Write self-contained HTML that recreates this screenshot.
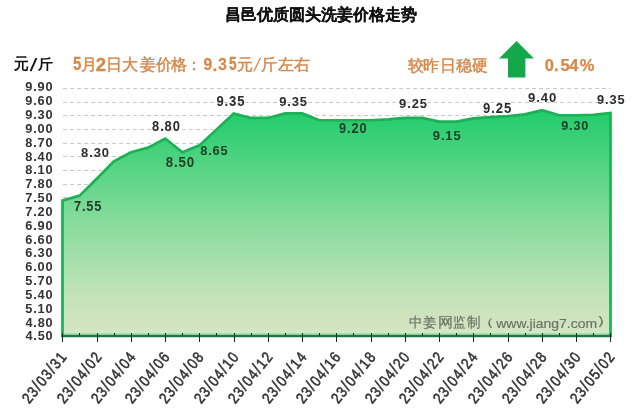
<!DOCTYPE html>
<html><head><meta charset="utf-8">
<style>
html,body{margin:0;padding:0;background:#fff;width:640px;height:410px;overflow:hidden}
svg{display:block;will-change:transform;font-family:"Liberation Sans",sans-serif}
</style></head><body>
<svg width="640" height="410" viewBox="0 0 640 410">
<defs>
<linearGradient id="g" x1="0" y1="0" x2="0" y2="1">
<stop offset="0" stop-color="#20cc6b"/>
<stop offset="0.5" stop-color="#88dc9c"/>
<stop offset="0.84" stop-color="#c6e3ba"/>
<stop offset="0.95" stop-color="#d3e3c1"/>
<stop offset="1" stop-color="#d4e8c6"/>
</linearGradient>
</defs>
<rect width="640" height="410" fill="#fff"/>
<g stroke="#c8c8c8" stroke-width="1" stroke-dasharray="4,3"><line x1="63.1" y1="321.50" x2="610.5" y2="321.50"/><line x1="63.1" y1="307.50" x2="610.5" y2="307.50"/><line x1="63.1" y1="293.50" x2="610.5" y2="293.50"/><line x1="63.1" y1="280.50" x2="610.5" y2="280.50"/><line x1="63.1" y1="266.50" x2="610.5" y2="266.50"/><line x1="63.1" y1="252.50" x2="610.5" y2="252.50"/><line x1="63.1" y1="239.50" x2="610.5" y2="239.50"/><line x1="63.1" y1="225.50" x2="610.5" y2="225.50"/><line x1="63.1" y1="211.50" x2="610.5" y2="211.50"/><line x1="63.1" y1="197.50" x2="610.5" y2="197.50"/><line x1="63.1" y1="184.50" x2="610.5" y2="184.50"/><line x1="63.1" y1="170.50" x2="610.5" y2="170.50"/><line x1="63.1" y1="156.50" x2="610.5" y2="156.50"/><line x1="63.1" y1="143.50" x2="610.5" y2="143.50"/><line x1="63.1" y1="129.50" x2="610.5" y2="129.50"/><line x1="63.1" y1="115.50" x2="610.5" y2="115.50"/><line x1="63.1" y1="102.50" x2="610.5" y2="102.50"/><line x1="63.1" y1="88.50" x2="610.5" y2="88.50"/></g>
<path d="M62.50,200.63 L79.62,195.61 L96.75,178.71 L113.88,161.35 L131.00,152.22 L148.12,147.65 L165.25,138.52 L182.38,152.22 L199.50,145.37 L216.62,129.38 L233.75,113.40 L250.88,117.97 L268.00,117.97 L285.12,113.40 L302.25,113.40 L319.38,120.25 L336.50,120.25 L353.62,120.25 L370.75,120.25 L387.88,119.34 L405.00,117.97 L422.12,117.97 L439.25,121.62 L456.38,121.62 L473.50,118.42 L490.62,117.05 L507.75,116.14 L524.88,114.31 L542.00,110.20 L559.12,115.23 L576.25,115.23 L593.38,114.77 L610.50,112.94 L610.50,335.6 L62.50,335.6 Z" fill="url(#g)"/>
<path d="M62.50,335.6 L62.50,200.63 L79.62,195.61 L96.75,178.71 L113.88,161.35 L131.00,152.22 L148.12,147.65 L165.25,138.52 L182.38,152.22 L199.50,145.37 L216.62,129.38 L233.75,113.40 L250.88,117.97 L268.00,117.97 L285.12,113.40 L302.25,113.40 L319.38,120.25 L336.50,120.25 L353.62,120.25 L370.75,120.25 L387.88,119.34 L405.00,117.97 L422.12,117.97 L439.25,121.62 L456.38,121.62 L473.50,118.42 L490.62,117.05 L507.75,116.14 L524.88,114.31 L542.00,110.20 L559.12,115.23 L576.25,115.23 L593.38,114.77 L610.50,112.94 L610.50,335.6" fill="none" stroke="#1db054" stroke-width="2.7" stroke-linejoin="miter" stroke-miterlimit="10"/>
<line x1="63.8" y1="333.9" x2="609" y2="333.9" stroke="#98e2a8" stroke-width="1.2"/>
<line x1="61.2" y1="335.9" x2="611.8" y2="335.9" stroke="#1a7a40" stroke-width="2.5"/>
<g stroke="#1c2a20" stroke-width="1"><line x1="62.50" y1="333" x2="62.50" y2="342"/><line x1="79.50" y1="333" x2="79.50" y2="335.60"/><line x1="97.50" y1="333" x2="97.50" y2="342"/><line x1="114.50" y1="333" x2="114.50" y2="335.60"/><line x1="131.50" y1="333" x2="131.50" y2="342"/><line x1="148.50" y1="333" x2="148.50" y2="335.60"/><line x1="165.50" y1="333" x2="165.50" y2="342"/><line x1="182.50" y1="333" x2="182.50" y2="335.60"/><line x1="199.50" y1="333" x2="199.50" y2="342"/><line x1="216.50" y1="333" x2="216.50" y2="335.60"/><line x1="234.50" y1="333" x2="234.50" y2="342"/><line x1="251.50" y1="333" x2="251.50" y2="335.60"/><line x1="268.50" y1="333" x2="268.50" y2="342"/><line x1="285.50" y1="333" x2="285.50" y2="335.60"/><line x1="302.50" y1="333" x2="302.50" y2="342"/><line x1="319.50" y1="333" x2="319.50" y2="335.60"/><line x1="336.50" y1="333" x2="336.50" y2="342"/><line x1="353.50" y1="333" x2="353.50" y2="335.60"/><line x1="371.50" y1="333" x2="371.50" y2="342"/><line x1="388.50" y1="333" x2="388.50" y2="335.60"/><line x1="405.50" y1="333" x2="405.50" y2="342"/><line x1="422.50" y1="333" x2="422.50" y2="335.60"/><line x1="439.50" y1="333" x2="439.50" y2="342"/><line x1="456.50" y1="333" x2="456.50" y2="335.60"/><line x1="473.50" y1="333" x2="473.50" y2="342"/><line x1="490.50" y1="333" x2="490.50" y2="335.60"/><line x1="508.50" y1="333" x2="508.50" y2="342"/><line x1="525.50" y1="333" x2="525.50" y2="335.60"/><line x1="542.50" y1="333" x2="542.50" y2="342"/><line x1="559.50" y1="333" x2="559.50" y2="335.60"/><line x1="576.50" y1="333" x2="576.50" y2="342"/><line x1="593.50" y1="333" x2="593.50" y2="335.60"/><line x1="610.50" y1="333" x2="610.50" y2="342"/></g>
<g font-size="15.5" fill="#333" stroke="#333" stroke-width="0.55" text-anchor="end" letter-spacing="1.4"><text transform="translate(68.00,356.60) rotate(-51) scale(0.85,1)">23<tspan font-size="17.5">/</tspan>03<tspan font-size="17.5">/</tspan>31</text>
<text transform="translate(103.00,356.60) rotate(-51) scale(0.85,1)">23<tspan font-size="17.5">/</tspan>04<tspan font-size="17.5">/</tspan>02</text>
<text transform="translate(137.00,356.60) rotate(-51) scale(0.85,1)">23<tspan font-size="17.5">/</tspan>04<tspan font-size="17.5">/</tspan>04</text>
<text transform="translate(171.00,356.60) rotate(-51) scale(0.85,1)">23<tspan font-size="17.5">/</tspan>04<tspan font-size="17.5">/</tspan>06</text>
<text transform="translate(205.00,356.60) rotate(-51) scale(0.85,1)">23<tspan font-size="17.5">/</tspan>04<tspan font-size="17.5">/</tspan>08</text>
<text transform="translate(240.00,356.60) rotate(-51) scale(0.85,1)">23<tspan font-size="17.5">/</tspan>04<tspan font-size="17.5">/</tspan>10</text>
<text transform="translate(274.00,356.60) rotate(-51) scale(0.85,1)">23<tspan font-size="17.5">/</tspan>04<tspan font-size="17.5">/</tspan>12</text>
<text transform="translate(308.00,356.60) rotate(-51) scale(0.85,1)">23<tspan font-size="17.5">/</tspan>04<tspan font-size="17.5">/</tspan>14</text>
<text transform="translate(342.00,356.60) rotate(-51) scale(0.85,1)">23<tspan font-size="17.5">/</tspan>04<tspan font-size="17.5">/</tspan>16</text>
<text transform="translate(377.00,356.60) rotate(-51) scale(0.85,1)">23<tspan font-size="17.5">/</tspan>04<tspan font-size="17.5">/</tspan>18</text>
<text transform="translate(411.00,356.60) rotate(-51) scale(0.85,1)">23<tspan font-size="17.5">/</tspan>04<tspan font-size="17.5">/</tspan>20</text>
<text transform="translate(445.00,356.60) rotate(-51) scale(0.85,1)">23<tspan font-size="17.5">/</tspan>04<tspan font-size="17.5">/</tspan>22</text>
<text transform="translate(479.00,356.60) rotate(-51) scale(0.85,1)">23<tspan font-size="17.5">/</tspan>04<tspan font-size="17.5">/</tspan>24</text>
<text transform="translate(514.00,356.60) rotate(-51) scale(0.85,1)">23<tspan font-size="17.5">/</tspan>04<tspan font-size="17.5">/</tspan>26</text>
<text transform="translate(548.00,356.60) rotate(-51) scale(0.85,1)">23<tspan font-size="17.5">/</tspan>04<tspan font-size="17.5">/</tspan>28</text>
<text transform="translate(582.00,356.60) rotate(-51) scale(0.85,1)">23<tspan font-size="17.5">/</tspan>04<tspan font-size="17.5">/</tspan>30</text>
<text transform="translate(616.00,356.60) rotate(-51) scale(0.85,1)">23<tspan font-size="17.5">/</tspan>05<tspan font-size="17.5">/</tspan>02</text>
</g>
<g><text transform="matrix(0.9464 0 0 1.0526 73.93 210.74)" font-size="13.5" font-weight="bold" letter-spacing="0.9" fill="#1f3d28">7.55</text>
<text transform="matrix(0.9607 0 0 0.9949 81.12 157.35)" font-size="13.5" font-weight="bold" letter-spacing="0.9" fill="#2b2b2b">8.30</text>
<text transform="matrix(0.9571 0 0 1.0256 152.12 130.74)" font-size="13.5" font-weight="bold" letter-spacing="0.9" fill="#2b2b2b">8.80</text>
<text transform="matrix(0.9821 0 0 1.0256 165.76 166.64)" font-size="13.5" font-weight="bold" letter-spacing="0.9" fill="#1f3d28">8.50</text>
<text transform="matrix(0.9482 0 0 0.9846 200.23 155.35)" font-size="13.5" font-weight="bold" letter-spacing="0.9" fill="#1f3d28">8.65</text>
<text transform="matrix(0.9679 0 0 1.0154 216.42 105.65)" font-size="13.5" font-weight="bold" letter-spacing="0.9" fill="#2b2b2b">9.35</text>
<text transform="matrix(0.9589 0 0 0.9897 279.27 105.50)" font-size="13.5" font-weight="bold" letter-spacing="0.9" fill="#2b2b2b">9.35</text>
<text transform="matrix(0.9500 0 0 1.0256 339.12 132.74)" font-size="13.5" font-weight="bold" letter-spacing="0.9" fill="#1f3d28">9.20</text>
<text transform="matrix(0.9607 0 0 0.9897 399.12 107.50)" font-size="13.5" font-weight="bold" letter-spacing="0.9" fill="#2b2b2b">9.25</text>
<text transform="matrix(0.9607 0 0 0.9897 432.82 139.50)" font-size="13.5" font-weight="bold" letter-spacing="0.9" fill="#1f3d28">9.15</text>
<text transform="matrix(0.9714 0 0 1.0564 483.11 112.74)" font-size="13.5" font-weight="bold" letter-spacing="0.9" fill="#2b2b2b">9.25</text>
<text transform="matrix(0.9696 0 0 0.9897 528.12 101.50)" font-size="13.5" font-weight="bold" letter-spacing="0.9" fill="#2b2b2b">9.40</text>
<text transform="matrix(0.9393 0 0 0.9897 561.13 129.50)" font-size="13.5" font-weight="bold" letter-spacing="0.9" fill="#1f3d28">9.30</text>
<text transform="matrix(0.9500 0 0 0.9949 597.12 104.45)" font-size="13.5" font-weight="bold" letter-spacing="0.9" fill="#2b2b2b">9.35</text>
<text transform="matrix(0.9381 0 0 0.9744 25.47 340.36)" font-size="13.5" font-weight="bold" letter-spacing="0.9" fill="#333">4.50</text>
<text transform="matrix(0.9381 0 0 0.9744 25.47 326.53)" font-size="13.5" font-weight="bold" letter-spacing="0.9" fill="#333">4.80</text>
<text transform="matrix(0.9464 0 0 0.9744 25.23 312.70)" font-size="13.5" font-weight="bold" letter-spacing="0.9" fill="#333">5.10</text>
<text transform="matrix(0.9464 0 0 0.9744 25.23 298.87)" font-size="13.5" font-weight="bold" letter-spacing="0.9" fill="#333">5.40</text>
<text transform="matrix(0.9464 0 0 0.9744 25.23 285.04)" font-size="13.5" font-weight="bold" letter-spacing="0.9" fill="#333">5.70</text>
<text transform="matrix(0.9464 0 0 0.9744 25.23 271.21)" font-size="13.5" font-weight="bold" letter-spacing="0.9" fill="#333">6.00</text>
<text transform="matrix(0.9464 0 0 0.9744 25.23 257.38)" font-size="13.5" font-weight="bold" letter-spacing="0.9" fill="#333">6.30</text>
<text transform="matrix(0.9464 0 0 0.9744 25.23 243.55)" font-size="13.5" font-weight="bold" letter-spacing="0.9" fill="#333">6.60</text>
<text transform="matrix(0.9464 0 0 0.9744 25.23 229.72)" font-size="13.5" font-weight="bold" letter-spacing="0.9" fill="#333">6.90</text>
<text transform="matrix(0.9464 0 0 0.9744 25.23 215.89)" font-size="13.5" font-weight="bold" letter-spacing="0.9" fill="#333">7.20</text>
<text transform="matrix(0.9464 0 0 0.9744 25.23 202.06)" font-size="13.5" font-weight="bold" letter-spacing="0.9" fill="#333">7.50</text>
<text transform="matrix(0.9464 0 0 0.9744 25.23 188.23)" font-size="13.5" font-weight="bold" letter-spacing="0.9" fill="#333">7.80</text>
<text transform="matrix(0.9464 0 0 0.9744 25.23 174.40)" font-size="13.5" font-weight="bold" letter-spacing="0.9" fill="#333">8.10</text>
<text transform="matrix(0.9464 0 0 0.9744 25.23 160.57)" font-size="13.5" font-weight="bold" letter-spacing="0.9" fill="#333">8.40</text>
<text transform="matrix(0.9464 0 0 0.9744 25.23 146.74)" font-size="13.5" font-weight="bold" letter-spacing="0.9" fill="#333">8.70</text>
<text transform="matrix(0.9464 0 0 0.9744 25.23 132.91)" font-size="13.5" font-weight="bold" letter-spacing="0.9" fill="#333">9.00</text>
<text transform="matrix(0.9464 0 0 0.9744 25.23 119.08)" font-size="13.5" font-weight="bold" letter-spacing="0.9" fill="#333">9.30</text>
<text transform="matrix(0.9464 0 0 0.9744 25.23 105.25)" font-size="13.5" font-weight="bold" letter-spacing="0.9" fill="#333">9.60</text>
<text transform="matrix(0.9464 0 0 0.9744 25.23 91.42)" font-size="13.5" font-weight="bold" letter-spacing="0.9" fill="#333">9.90</text>
<text transform="matrix(0.9097 0 0 0.9898 14.30 69.42)" font-size="16" font-weight="bold" letter-spacing="0" fill="#111">元</text>
<text transform="matrix(0.9563 0 0 0.8937 37.54 69.09)" font-size="16" font-weight="bold" letter-spacing="0" fill="#111">斤</text>
<text transform="matrix(0.8824 0 0 1.0417 72.96 70.49)" font-size="17" font-weight="bold" letter-spacing="0" fill="#d6884a" stroke="#d6884a" stroke-width="0.25">5</text>
<text transform="matrix(1.0000 0 0 1.0000 80.75 70.00)" font-size="16" font-weight="normal" letter-spacing="0" fill="#d6884a" stroke="#d6884a" stroke-width="0.45">月</text>
<text transform="matrix(1.0909 0 0 1.0417 95.70 70.75)" font-size="17" font-weight="bold" letter-spacing="0" fill="#d6884a" stroke="#d6884a" stroke-width="0.25">2</text>
<text transform="matrix(1.0000 0 0 1.0000 105.90 70.00)" font-size="16" font-weight="normal" letter-spacing="0" fill="#d6884a" stroke="#d6884a" stroke-width="0.45">日</text>
<text transform="matrix(1.0000 0 0 1.0000 121.55 70.00)" font-size="16" font-weight="normal" letter-spacing="0" fill="#d6884a" stroke="#d6884a" stroke-width="0.45">大</text>
<text transform="matrix(1.0000 0 0 1.0000 140.05 70.00)" font-size="16" font-weight="normal" letter-spacing="0" fill="#d6884a" stroke="#d6884a" stroke-width="0.45">姜</text>
<text transform="matrix(1.0000 0 0 1.0000 155.60 70.00)" font-size="16" font-weight="normal" letter-spacing="0" fill="#d6884a" stroke="#d6884a" stroke-width="0.45">价</text>
<text transform="matrix(1.0000 0 0 1.0000 171.25 70.00)" font-size="16" font-weight="normal" letter-spacing="0" fill="#d6884a" stroke="#d6884a" stroke-width="0.45">格</text>
<text transform="matrix(1.0000 0 0 1.0000 186.10 70.00)" font-size="16" font-weight="normal" letter-spacing="0" fill="#d6884a" stroke="#d6884a" stroke-width="0.45">：</text>
<text transform="matrix(0.9212 0 0 1.0204 203.54 70.49)" font-size="17" font-weight="bold" letter-spacing="0" fill="#d6884a" stroke="#d6884a" stroke-width="0.25">9</text>
<text transform="matrix(1.0000 0 0 1.0000 212.50 70.75)" font-size="17" font-weight="bold" letter-spacing="0" fill="#d6884a" stroke="#d6884a" stroke-width="0.25">.</text>
<text transform="matrix(0.9091 0 0 1.0204 218.30 70.49)" font-size="17" font-weight="bold" letter-spacing="0" fill="#d6884a" stroke="#d6884a" stroke-width="0.25">3</text>
<text transform="matrix(0.8059 0 0 1.0417 229.00 70.49)" font-size="17" font-weight="bold" letter-spacing="0" fill="#d6884a" stroke="#d6884a" stroke-width="0.25">5</text>
<text transform="matrix(1.0000 0 0 1.0000 236.75 70.00)" font-size="16" font-weight="normal" letter-spacing="0" fill="#d6884a" stroke="#d6884a" stroke-width="0.45">元</text>
<text transform="matrix(1.0000 0 0 1.0000 261.40 70.00)" font-size="16" font-weight="normal" letter-spacing="0" fill="#d6884a" stroke="#d6884a" stroke-width="0.45">斤</text>
<text transform="matrix(1.0000 0 0 1.0000 277.75 70.00)" font-size="16" font-weight="normal" letter-spacing="0" fill="#d6884a" stroke="#d6884a" stroke-width="0.45">左</text>
<text transform="matrix(1.0000 0 0 1.0000 293.50 70.00)" font-size="16" font-weight="normal" letter-spacing="0" fill="#d6884a" stroke="#d6884a" stroke-width="0.45">右</text>
<text transform="matrix(1.0000 0 0 1.0000 408.25 70.50)" font-size="16" font-weight="normal" letter-spacing="0" fill="#d6884a" stroke="#d6884a" stroke-width="0.45">较</text>
<text transform="matrix(1.0000 0 0 1.0000 423.30 70.50)" font-size="16" font-weight="normal" letter-spacing="0" fill="#d6884a" stroke="#d6884a" stroke-width="0.45">昨</text>
<text transform="matrix(1.0000 0 0 1.0000 439.70 70.50)" font-size="16" font-weight="normal" letter-spacing="0" fill="#d6884a" stroke="#d6884a" stroke-width="0.45">日</text>
<text transform="matrix(1.0000 0 0 1.0000 456.05 70.50)" font-size="16" font-weight="normal" letter-spacing="0" fill="#d6884a" stroke="#d6884a" stroke-width="0.45">稳</text>
<text transform="matrix(1.0000 0 0 1.0000 471.75 70.50)" font-size="16" font-weight="normal" letter-spacing="0" fill="#d6884a" stroke="#d6884a" stroke-width="0.45">硬</text>
<text transform="matrix(1.0000 0 0 1.0000 544.85 70.65)" font-size="16.5" font-weight="bold" letter-spacing="0" fill="#d6884a" stroke="#d6884a" stroke-width="0.25">0</text>
<text transform="matrix(1.0000 0 0 1.0000 554.00 70.90)" font-size="16.5" font-weight="bold" letter-spacing="0" fill="#d6884a" stroke="#d6884a" stroke-width="0.25">.</text>
<text transform="matrix(1.0000 0 0 1.0000 560.60 70.65)" font-size="16.5" font-weight="bold" letter-spacing="0" fill="#d6884a" stroke="#d6884a" stroke-width="0.25">5</text>
<text transform="matrix(1.0000 0 0 1.0000 569.25 70.90)" font-size="16.5" font-weight="bold" letter-spacing="0" fill="#d6884a" stroke="#d6884a" stroke-width="0.25">4</text>
<text transform="matrix(1.0000 0 0 1.0000 579.80 70.65)" font-size="16.5" font-weight="bold" letter-spacing="0" fill="#d6884a" stroke="#d6884a" stroke-width="0.25">%</text>
<text transform="matrix(0.9689 0 0 1.0192 409.17 327.22)" font-size="14" font-weight="normal" letter-spacing="0" fill="#687365" stroke="#687365" stroke-width="0.18">中</text>
<text transform="matrix(0.9736 0 0 0.9298 422.86 326.66)" font-size="14" font-weight="normal" letter-spacing="0" fill="#687365" stroke="#687365" stroke-width="0.18">姜</text>
<text transform="matrix(1.1111 0 0 1.0280 437.81 326.95)" font-size="14" font-weight="normal" letter-spacing="0" fill="#687365" stroke="#687365" stroke-width="0.18">网</text>
<text transform="matrix(0.9308 0 0 1.0235 452.63 327.21)" font-size="14" font-weight="normal" letter-spacing="0" fill="#687365" stroke="#687365" stroke-width="0.18">监</text>
<text transform="matrix(0.9490 0 0 0.9815 466.56 326.79)" font-size="14" font-weight="normal" letter-spacing="0" fill="#687365" stroke="#687365" stroke-width="0.18">制</text>
<text transform="matrix(1.2727 0 0 0.8000 476.85 325.60)" font-size="14" font-weight="normal" letter-spacing="0" fill="#687365" stroke="#687365" stroke-width="0.18">（</text>
<text transform="matrix(1.0341 0 0 1.0000 496.25 327.50)" font-size="13.5" font-weight="normal" letter-spacing="0" fill="#687365" stroke="#687365" stroke-width="0.18">www.jiang7.com</text>
<text transform="matrix(1.4182 0 0 0.9551 595.91 325.21)" font-size="14" font-weight="normal" letter-spacing="0" fill="#687365" stroke="#687365" stroke-width="0.18">）</text>
</g>
<text x="320.5" y="20" font-size="16" font-weight="bold" fill="#111" stroke="#111" stroke-width="0.12" text-anchor="middle">昌邑优质圆头洗姜价格走势</text>
<path d="M30.6,71.2 L36.4,58.2" stroke="#111" stroke-width="1.9" fill="none"/>
<path d="M253.8,71.5 L260.5,57.8" stroke="#d6884a" stroke-width="1.3" fill="none"/>
<path d="M516.6,41 L534,58.4 L525.4,58.4 L525.4,77.4 L508,77.4 L508,58.4 L499.1,58.4 Z" fill="#14a84b"/>
</svg>
</body></html>
